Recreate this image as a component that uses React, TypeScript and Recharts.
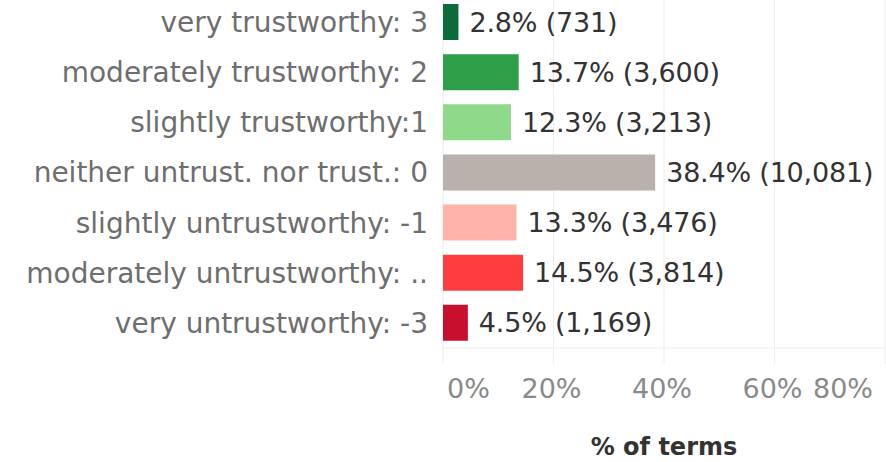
import React from "react";
import { BarChart, Bar, XAxis, YAxis, CartesianGrid, Cell, LabelList } from "recharts";

const categories = [
  "very trustworthy: 3",
  "moderately trustworthy: 2",
  "slightly trustworthy:1",
  "neither untrust. nor trust.: 0",
  "slightly untrustworthy: -1",
  "moderately untrustworthy: ..",
  "very untrustworthy: -3",
];
const percents = [2.8, 13.7, 12.3, 38.4, 13.3, 14.5, 4.5];
const counts = [731, 3600, 3213, 10081, 3476, 3814, 1169];
const barColors = ["#0c6b3a", "#2f9e48", "#8fd98b", "#bab0ac", "#ffb3a9", "#ff3c3e", "#c8102e"];
const xTicks = [0, 20, 40, 60, 80];
const xTickLabels = ["0%", "20%", "40%", "60%", "80%"];
const axisTitle = "% of terms";

const data = categories.map((name, i) => ({
  name,
  pct: percents[i],
  count: counts[i],
  label: `${percents[i].toFixed(1)}% (${counts[i].toLocaleString("en-US")})`,
}));

const FONT = "'DejaVu Sans', sans-serif";

const XTick = (props: any) => {
  const { x, y, index } = props;
  let anchor: "start" | "middle" | "end" = "middle";
  let dx = -2;
  if (index === 0) {
    anchor = "start";
    dx = 4;
  } else if (index === xTicks.length - 1) {
    anchor = "end";
    dx = -5;
  }
  return (
    <text x={x + dx} y={y + 32} textAnchor={anchor} fill="#8a8a8a" fontSize={27} fontFamily={FONT}>
      {xTickLabels[index]}
    </text>
  );
};

const ValueLabel = (props: any) => {
  const { x, y, width, height, index } = props;
  return (
    <text
      x={x + width + 11}
      y={y + height / 2}
      dominantBaseline="central"
      fill="#333333"
      fontSize={27}
      letterSpacing={-0.2}
      fontFamily={FONT}
    >
      {data[index].label}
    </text>
  );
};

const AxisTitle = (props: any) => {
  const { viewBox } = props;
  return (
    <text
      x={viewBox.x + viewBox.width / 2}
      y={viewBox.y + 107}
      textAnchor="middle"
      fill="#333333"
      fontSize={24}
      fontWeight="bold"
      fontFamily={FONT}
    >
      {axisTitle}
    </text>
  );
};

export default function App() {
  return (
    <div style={{ position: "absolute", left: 0, top: -3 }}>
      <BarChart
        width={886}
        height={465}
        data={data}
        layout="vertical"
        margin={{ top: 0, right: 1, left: 0, bottom: 0 }}
      >
        <CartesianGrid horizontal={false} vertical={true} stroke="#ececec" />
        <XAxis
          type="number"
          domain={[0, 80]}
          ticks={xTicks}
          height={114}
          tickSize={16}
          tickMargin={2}
          axisLine={{ stroke: "#eeeeee" }}
          tickLine={{ stroke: "#eeeeee" }}
          tick={<XTick />}
          label={<AxisTitle />}
        />
        <YAxis
          type="category"
          dataKey="name"
          width={443}
          interval={0}
          axisLine={false}
          tickLine={false}
          tickSize={0}
          tickMargin={15}
          tick={{ fill: "#6e6e6e", fontSize: 28, fontFamily: FONT }}
        />
        <Bar dataKey="pct" barSize={36} isAnimationActive={false}>
          {data.map((d, i) => (
            <Cell key={d.name} fill={barColors[i]} />
          ))}
          <LabelList dataKey="label" content={<ValueLabel />} />
        </Bar>
      </BarChart>
    </div>
  );
}
